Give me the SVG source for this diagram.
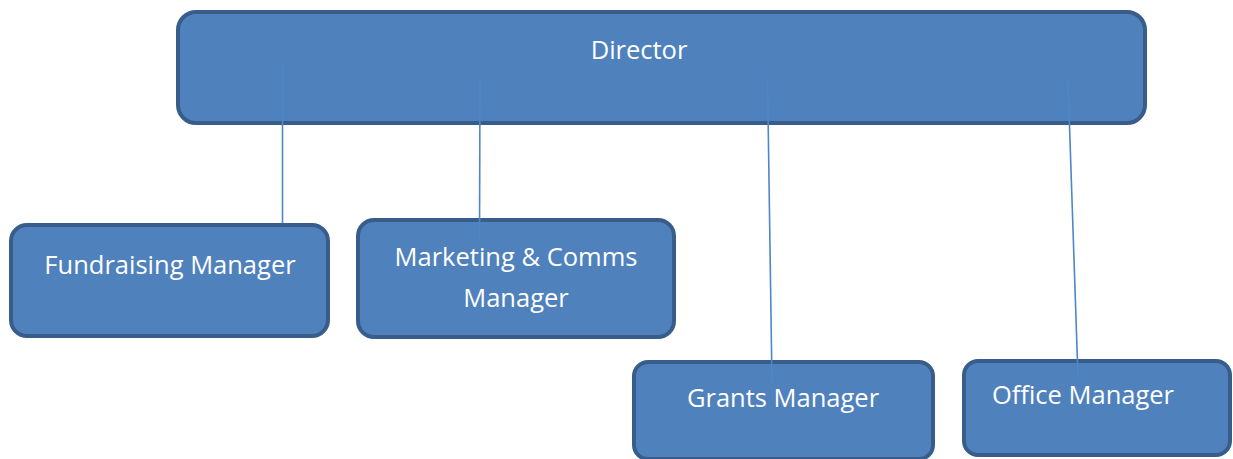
<svg xmlns="http://www.w3.org/2000/svg" width="1233" height="459" viewBox="0 0 1233 459">
  <style>
    .box { fill: #4f81bd; stroke: #385d8a; stroke-width: 4; }
    .label { fill: #ffffff; font-family: "Open Sans", "Liberation Sans", sans-serif; font-size: 25.5px; text-anchor: middle; }
    .link { stroke: #4f86c6; stroke-width: 1.6; fill: none; }
  </style>
  <rect width="1233" height="459" fill="#ffffff"/>

  <g id="director">
    <rect class="box" x="178" y="12" width="967" height="111" rx="18" ry="18"/>
    <text class="label" x="639" y="59">Director</text>
  </g>

  <g id="fundraising-manager">
    <rect class="box" x="11" y="225" width="317" height="111" rx="16" ry="16"/>
    <text class="label" x="170" y="274">Fundraising Manager</text>
  </g>

  <g id="marketing-comms-manager">
    <rect class="box" x="358" y="220" width="316" height="117" rx="16" ry="16"/>
    <text class="label" x="516" y="266">Marketing &amp; Comms</text>
    <text class="label" x="516" y="307">Manager</text>
  </g>

  <g id="grants-manager">
    <rect class="box" x="634" y="362" width="299" height="97" rx="14" ry="14"/>
    <text class="label" x="783" y="407">Grants Manager</text>
  </g>

  <g id="office-manager">
    <rect class="box" x="964" y="361" width="266" height="94" rx="14" ry="14"/>
    <text class="label" x="1083" y="404">Office Manager</text>
  </g>

  <g id="connectors">
    <line class="link" x1="282.5" y1="63" x2="282.5" y2="223"/>
    <line class="link" x1="480" y1="80" x2="479.5" y2="240"/>
    <line class="link" x1="767.5" y1="78" x2="772" y2="383"/>
    <line class="link" x1="1068" y1="81" x2="1078" y2="378"/>
  </g>
</svg>
